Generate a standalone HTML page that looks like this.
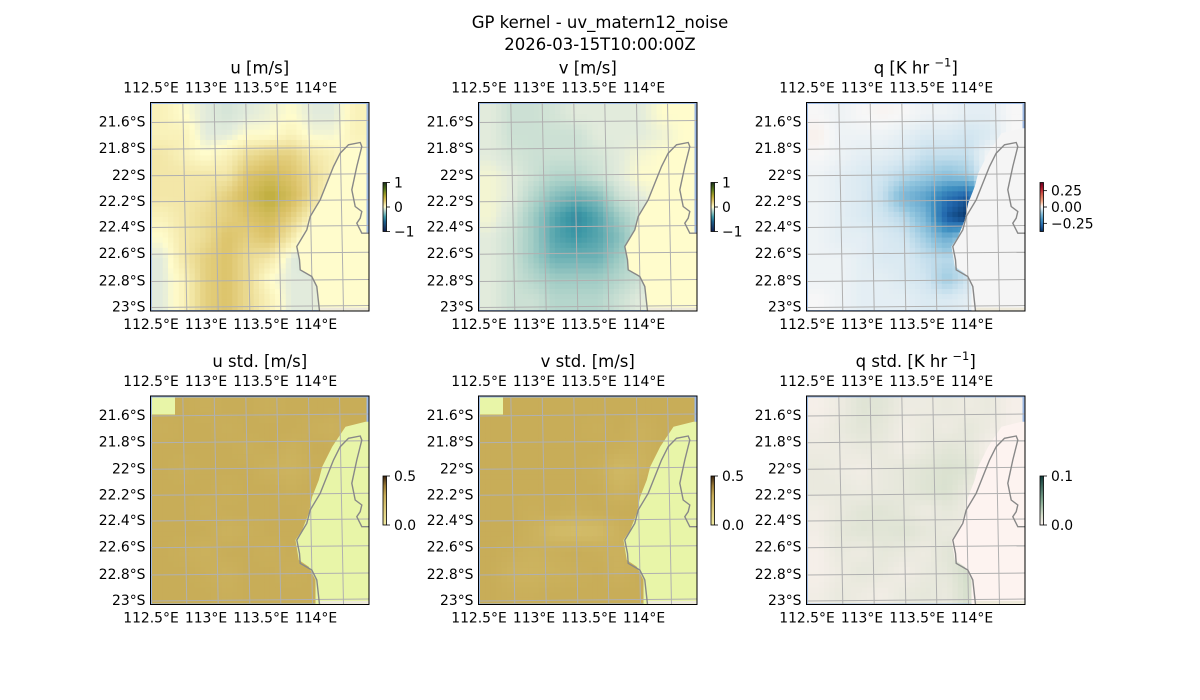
<!DOCTYPE html>
<html><head><meta charset="utf-8"><style>
html,body{margin:0;padding:0;background:#fff;}
svg{display:block;font-family:"DejaVu Sans","Liberation Sans",sans-serif;}
</style></head><body>
<svg id="fig" width="1200" height="700" viewBox="0 0 1200 700" xmlns="http://www.w3.org/2000/svg">
<text x="600" y="28" text-anchor="middle" font-size="16.5">GP kernel - uv_matern12_noise</text>
<text x="600" y="50" text-anchor="middle" font-size="16.5">2026-03-15T10:00:00Z</text>
</svg>
<script>
const lonTicks = ['112.5°E','113°E','113.5°E','114°E'];
const latTicks = ['21.6°S','21.8°S','22°S','22.2°S','22.4°S','22.6°S','22.8°S','23°S'];
const uMean = [
[0.05,0.0,-0.05,-0.08,-0.05,-0.03,0.0,-0.05,-0.05,0.05],
[0.05,0.05,-0.05,-0.05,0.0,0.0,0.05,-0.02,-0.02,0.05],
[0.1,0.05,0.0,0.05,0.15,0.2,0.2,0.1,0.05,0.0],
[0.1,0.1,0.1,0.1,0.25,0.3,0.25,0.15,0.05,0.0],
[0.1,0.1,0.12,0.2,0.3,0.4,0.3,0.15,0.0,0.0],
[0.05,0.1,0.15,0.2,0.25,0.3,0.2,0.05,0.0,0.0],
[0.0,0.1,0.15,0.25,0.2,0.25,0.1,-0.1,0.0,0.0],
[-0.05,0.1,0.2,0.25,0.15,0.1,-0.05,-0.1,0.0,0.0],
[-0.05,0.05,0.2,0.25,0.15,0.0,-0.05,-0.05,0.0,0.0],
[-0.05,0.05,0.2,0.25,0.15,0.05,-0.05,-0.05,0.0,0.0]];
const vMean = [
[-0.05,-0.1,-0.1,-0.08,-0.05,-0.05,-0.05,-0.05,0,0],
[-0.05,-0.1,-0.1,-0.1,-0.1,-0.05,-0.05,-0.05,-0.03,0],
[-0.05,-0.08,-0.1,-0.1,-0.1,-0.08,-0.05,-0.02,0,0],
[-0.02,-0.05,-0.1,-0.15,-0.15,-0.1,-0.05,0,0,0],
[-0.02,-0.05,-0.15,-0.25,-0.3,-0.25,-0.1,-0.05,0,0],
[-0.02,-0.08,-0.2,-0.35,-0.45,-0.35,-0.2,-0.1,0,0],
[-0.05,-0.1,-0.2,-0.35,-0.4,-0.35,-0.25,-0.1,0,0],
[-0.05,-0.1,-0.2,-0.3,-0.3,-0.3,-0.2,-0.1,0,0],
[-0.05,-0.1,-0.15,-0.2,-0.2,-0.2,-0.15,-0.1,0,0],
[-0.05,-0.1,-0.1,-0.15,-0.15,-0.15,-0.1,-0.05,0,0]];
const qMean = [
[0,-0.01,0,0.005,0,-0.01,-0.01,-0.02,-0.02,0],
[0.01,-0.01,-0.01,-0.01,-0.02,-0.03,-0.03,-0.04,-0.03,0],
[0,-0.01,-0.02,-0.02,-0.03,-0.05,-0.05,-0.05,0,0],
[-0.01,-0.02,-0.03,-0.04,-0.06,-0.08,-0.1,-0.08,0,0],
[-0.01,-0.02,-0.03,-0.05,-0.12,-0.16,-0.25,-0.3,0,0],
[-0.01,-0.02,-0.03,-0.04,-0.06,-0.12,-0.3,-0.37,0,0],
[-0.01,-0.02,-0.02,-0.03,-0.04,-0.08,-0.14,-0.06,0,0],
[-0.01,-0.01,-0.02,-0.03,-0.03,-0.05,-0.06,-0.05,0,0],
[-0.01,-0.01,-0.02,-0.02,-0.03,-0.04,-0.08,-0.04,0,0],
[0,-0.01,-0.02,-0.02,-0.02,-0.03,-0.03,-0.02,0,0]];
const uStd = [
[0.3,0.3,0.29,0.3,0.3,0.29,0.3,0.3,0.3,0.3],
[0.29,0.3,0.3,0.29,0.3,0.3,0.3,0.29,0.28,0.3],
[0.3,0.3,0.3,0.3,0.29,0.3,0.28,0.3,0.3,0.3],
[0.3,0.29,0.3,0.3,0.3,0.28,0.27,0.29,0.3,0.3],
[0.3,0.3,0.3,0.29,0.3,0.3,0.29,0.3,0.3,0.3],
[0.3,0.3,0.29,0.3,0.3,0.3,0.3,0.29,0.3,0.3],
[0.3,0.3,0.3,0.28,0.29,0.3,0.3,0.3,0.3,0.3],
[0.3,0.29,0.28,0.3,0.3,0.29,0.3,0.28,0.3,0.3],
[0.3,0.3,0.29,0.28,0.3,0.3,0.29,0.3,0.3,0.3],
[0.3,0.3,0.3,0.29,0.3,0.3,0.3,0.3,0.3,0.3]];
const vStd = [
[0.3,0.3,0.3,0.3,0.3,0.3,0.3,0.3,0.3,0.3],
[0.3,0.3,0.3,0.3,0.3,0.29,0.3,0.28,0.3,0.3],
[0.3,0.3,0.3,0.3,0.3,0.3,0.29,0.28,0.3,0.3],
[0.3,0.3,0.3,0.3,0.3,0.29,0.25,0.27,0.3,0.3],
[0.3,0.3,0.3,0.3,0.3,0.3,0.27,0.29,0.3,0.3],
[0.3,0.3,0.29,0.3,0.29,0.3,0.3,0.3,0.3,0.3],
[0.3,0.3,0.28,0.24,0.23,0.24,0.28,0.3,0.3,0.3],
[0.3,0.29,0.28,0.29,0.3,0.29,0.28,0.29,0.3,0.3],
[0.3,0.27,0.27,0.28,0.29,0.3,0.28,0.3,0.3,0.3],
[0.3,0.29,0.29,0.3,0.3,0.3,0.3,0.3,0.3,0.3]];
const qStd = [
[0.004,0.008,0.015,0.014,0.008,0.008,0.01,0.008,0.01,0.004],
[0.006,0.01,0.014,0.012,0.006,0.01,0.008,0.012,0.008,0.004],
[0.008,0.008,0.01,0.01,0.006,0.01,0.014,0.012,0.004,0.004],
[0.01,0.008,0.006,0.01,0.012,0.015,0.018,0.016,0.004,0.004],
[0.01,0.01,0.008,0.01,0.012,0.016,0.018,0.01,0.004,0.004],
[0.006,0.01,0.014,0.015,0.012,0.008,0.012,0.008,0.004,0.004],
[0.006,0.012,0.015,0.014,0.016,0.012,0.01,0.01,0.004,0.004],
[0.004,0.01,0.008,0.012,0.01,0.008,0.014,0.016,0.004,0.004],
[0.004,0.008,0.012,0.01,0.006,0.01,0.012,0.022,0.004,0.004],
[0.006,0.01,0.008,0.006,0.01,0.012,0.01,0.02,0.004,0.004]];

const cmDelta=[[-1,'#111d4e'],[-0.6,'#1d5f8a'],[-0.4,'#3d98a6'],[-0.2,'#9fcbc4'],[-0.05,'#e2ebdc'],[0,'#fffccc'],[0.1,'#f3e7a8'],[0.25,'#dcc36a'],[0.45,'#b2a52c'],[0.7,'#5a7a1c'],[1,'#172f17']];
const cmRdBu=[[-0.375,'#053061'],[-0.28,'#2166ac'],[-0.19,'#4393c3'],[-0.09,'#92c5de'],[-0.04,'#d1e5f0'],[0,'#f7f7f7'],[0.04,'#fddbc7'],[0.09,'#f4a582'],[0.19,'#d6604d'],[0.28,'#b2182b'],[0.375,'#67001f']];
const cmStdUV=[[0,'#f0e9a0'],[0.15,'#e0cf7e'],[0.3,'#c8ad58'],[0.4,'#9a7a35'],[0.5,'#3a2410']];
const cmStdQ=[[0,'#fdf3f0'],[0.02,'#d6dfcc'],[0.05,'#80a890'],[0.1,'#0e3b3a']];

function hex(c){return [1,3,5].map(i=>parseInt(c.substr(i,2),16));}
function cmap(st,v){
  if(v<=st[0][0])return st[0][1];
  for(let i=1;i<st.length;i++){if(v<=st[i][0]){const t=(v-st[i-1][0])/(st[i][0]-st[i-1][0]);const a=hex(st[i-1][1]),b=hex(st[i][1]);return 'rgb('+a.map((x,k)=>Math.round(x+(b[k]-x)*t)).join(',')+')';}}
  return st[st.length-1][1];
}
function sample(d,fy,fx){
  const R=d.length,C=d[0].length;
  fx=Math.max(0,Math.min(C-1,fx));fy=Math.max(0,Math.min(R-1,fy));
  const x0=Math.floor(fx),y0=Math.floor(fy),x1=Math.min(C-1,x0+1),y1=Math.min(R-1,y0+1),tx=fx-x0,ty=fy-y0;
  return d[y0][x0]*(1-tx)*(1-ty)+d[y0][x1]*tx*(1-ty)+d[y1][x0]*(1-tx)*ty+d[y1][x1]*tx*ty;
}
const NS='http://www.w3.org/2000/svg';
const fig=document.getElementById('fig');
function el(tag,attrs,parent){const e=document.createElementNS(NS,tag);for(const k in attrs)e.setAttribute(k,attrs[k]);(parent||fig).appendChild(e);return e;}

const W=218.5,H=208.5;
const gridX=[32.3,63.7,95.3,126.3,158,189];
const gridY=[19,45.7,72.3,98.3,124,150.7,178,204];
const lonPos=[0.5,55.5,110.5,165.5];
const coast='M169,208.5 L166.3,184 L161.3,174 L149.7,167.3 L149,157.3 L146.3,144 L156.3,127.3 L159.7,114 L169.7,97.3 L176.3,80.7 L183,64 L189.7,50.7 L198,42.3 L209.7,40 L211.3,44 L206.3,64 L201.3,87.3 L204.7,104 L211.3,109 L209.7,115.7 L206.3,120.7 L211.3,130.7 L218.5,130.7';
const stair='M215,25.7 L195,30.7 L181.7,50.7 L171.7,70.7 L168.3,84 L161.7,100.7 L158.3,117.3 L151.7,134 L145,144 L148.3,164 L158.3,170.7 L165,184 L165,208.5 L218.5,208.5 L218.5,25.7 Z';

const panels=[
 {name:'u-mean',title:'u [m/s]',x:150.5,y:102.5,data:uMean,cm:cmDelta,land:'#fffccc',mask:'coast',cb:{min:-1,max:1,ticks:[1,0,-1],labels:['1','0','−1']}},
 {name:'v-mean',title:'v [m/s]',x:478.5,y:102.5,data:vMean,cm:cmDelta,land:'#fffccc',mask:'coast',cb:{min:-1,max:1,ticks:[1,0,-1],labels:['1','0','−1']}},
 {name:'q-mean',title:'q [K hr ',sup:true,x:806.5,y:102.5,data:qMean,cm:cmRdBu,land:'#f5f5f5',mask:'stair',cb:{min:-0.375,max:0.375,ticks:[0.25,0,-0.25],labels:['0.25','0.00','−0.25']}},
 {name:'u-std',title:'u std. [m/s]',x:150.5,y:396,data:uStd,cm:cmStdUV,land:'#e8f5a8',mask:'stair',corner:true,cb:{min:0,max:0.5,ticks:[0.5,0],labels:['0.5','0.0']}},
 {name:'v-std',title:'v std. [m/s]',x:478.5,y:396,data:vStd,cm:cmStdUV,land:'#e8f5a8',mask:'stair',corner:true,cb:{min:0,max:0.5,ticks:[0.5,0],labels:['0.5','0.0']}},
 {name:'q-std',title:'q std. [K hr ',sup:true,x:806.5,y:396,data:qStd,cm:cmStdQ,land:'#fdf3f0',mask:'stair',cb:{min:0,max:0.1,ticks:[0.1,0],labels:['0.1','0.0']}}
];

panels.forEach((p,pi)=>{
  const g=el('g',{transform:`translate(${p.x},${p.y})`});
  
  
  const cid='clip'+pi;
  const cp=el('clipPath',{id:cid},g);el('rect',{x:0,y:0,width:W,height:H},cp);
  const body=el('g',{'clip-path':`url(#${cid})`},g);
  el('rect',{x:0,y:0,width:W,height:H,fill:'#9db9e3'},body);
  const hm=el('g',{},body);
  
  
  const rows=p.data.length,cols=p.data[0].length;
  const F=4, R2=rows*F, C2=cols*F, x0=1.5, y0=1.5, ww=W-4.5, hh=H-3;
  const cw=ww/C2, ch=hh/R2;
  for(let r=0;r<R2;r++)for(let c=0;c<C2;c++){
    const v=sample(p.data,(r+0.5)/F-0.5,(c+0.5)/F-0.5);
    const cell=el('rect',{x:(x0+c*cw).toFixed(2),y:(y0+r*ch).toFixed(2),width:(cw+0.5).toFixed(2),height:(ch+0.5).toFixed(2),fill:cmap(p.cm,v)},hm);
    
    
  }
  if(p.corner){const cr=el('rect',{x:1.5,y:1.5,width:23,height:17,fill:p.land},body);
    }
  const land=el('path',{d:p.mask==='coast'?coast+' L218.5,208.5 Z':stair,fill:p.land},body);
  
  
  el('rect',{x:168,y:205,width:51,height:4,fill:'#eeeadb'},body);
  gridX.forEach(gx=>{const l=el('line',{x1:gx,y1:0,x2:gx+4,y2:H,stroke:'#b0b0b0','stroke-width':1},body);
    });
  gridY.forEach(gy=>{const l=el('line',{x1:0,y1:gy+1,x2:W,y2:gy-1,stroke:'#b0b0b0','stroke-width':1},body);
    });
  const cl=el('path',{d:coast,fill:'none',stroke:'#888','stroke-width':1.4},body);
  
  
  el('rect',{x:0,y:0,width:W,height:H,fill:'none',stroke:'#000','stroke-width':1},g);
  const t=el('text',{x:W/2,y:-29,'text-anchor':'middle','font-size':16.5},g);
  
  if(p.sup){
    t.appendChild(document.createTextNode(p.title));
    const s=el('tspan',{'font-size':11.5,dy:-7},t);s.textContent='−1';
    const e=el('tspan',{dy:7},t);e.textContent=']';
  } else t.textContent=p.title;
  lonTicks.forEach((s,i)=>{
    const a=el('text',{x:lonPos[i],y:-10,'text-anchor':'middle','font-size':13.9},g);a.textContent=s;
    
    const b=el('text',{x:lonPos[i],y:H+18,'text-anchor':'middle','font-size':13.9},g);b.textContent=s;
    
  });
  latTicks.forEach((s,i)=>{
    const a=el('text',{x:-5,y:gridY[i]+5,'text-anchor':'end','font-size':13.9},g);a.textContent=s;
    
  });
  const cbx=pi%3===2?233.5:232.5, cby=80, cbh=49;
  const gid='grad'+pi;
  const lg=el('linearGradient',{id:gid,x1:0,y1:1,x2:0,y2:0},g);
  for(let k=0;k<=20;k++){const v=p.cb.min+(p.cb.max-p.cb.min)*k/20;el('stop',{offset:k/20,'stop-color':cmap(p.cm,v)},lg);}
  const cb=el('rect',{x:cbx,y:cby,width:3.5,height:cbh,fill:`url(#${gid})`,stroke:'#000','stroke-width':0.8},g);
  
  
  p.cb.ticks.forEach((tv,i)=>{
    const ty=cby+cbh*(p.cb.max-tv)/(p.cb.max-p.cb.min);
    el('line',{x1:cbx+3.5,y1:ty,x2:cbx+7,y2:ty,stroke:'#000','stroke-width':0.8},g);
    const tl=el('text',{x:cbx+11,y:ty+5,'font-size':13.9},g);tl.textContent=p.cb.labels[i];
    
  });
});
</script>
</body></html>
